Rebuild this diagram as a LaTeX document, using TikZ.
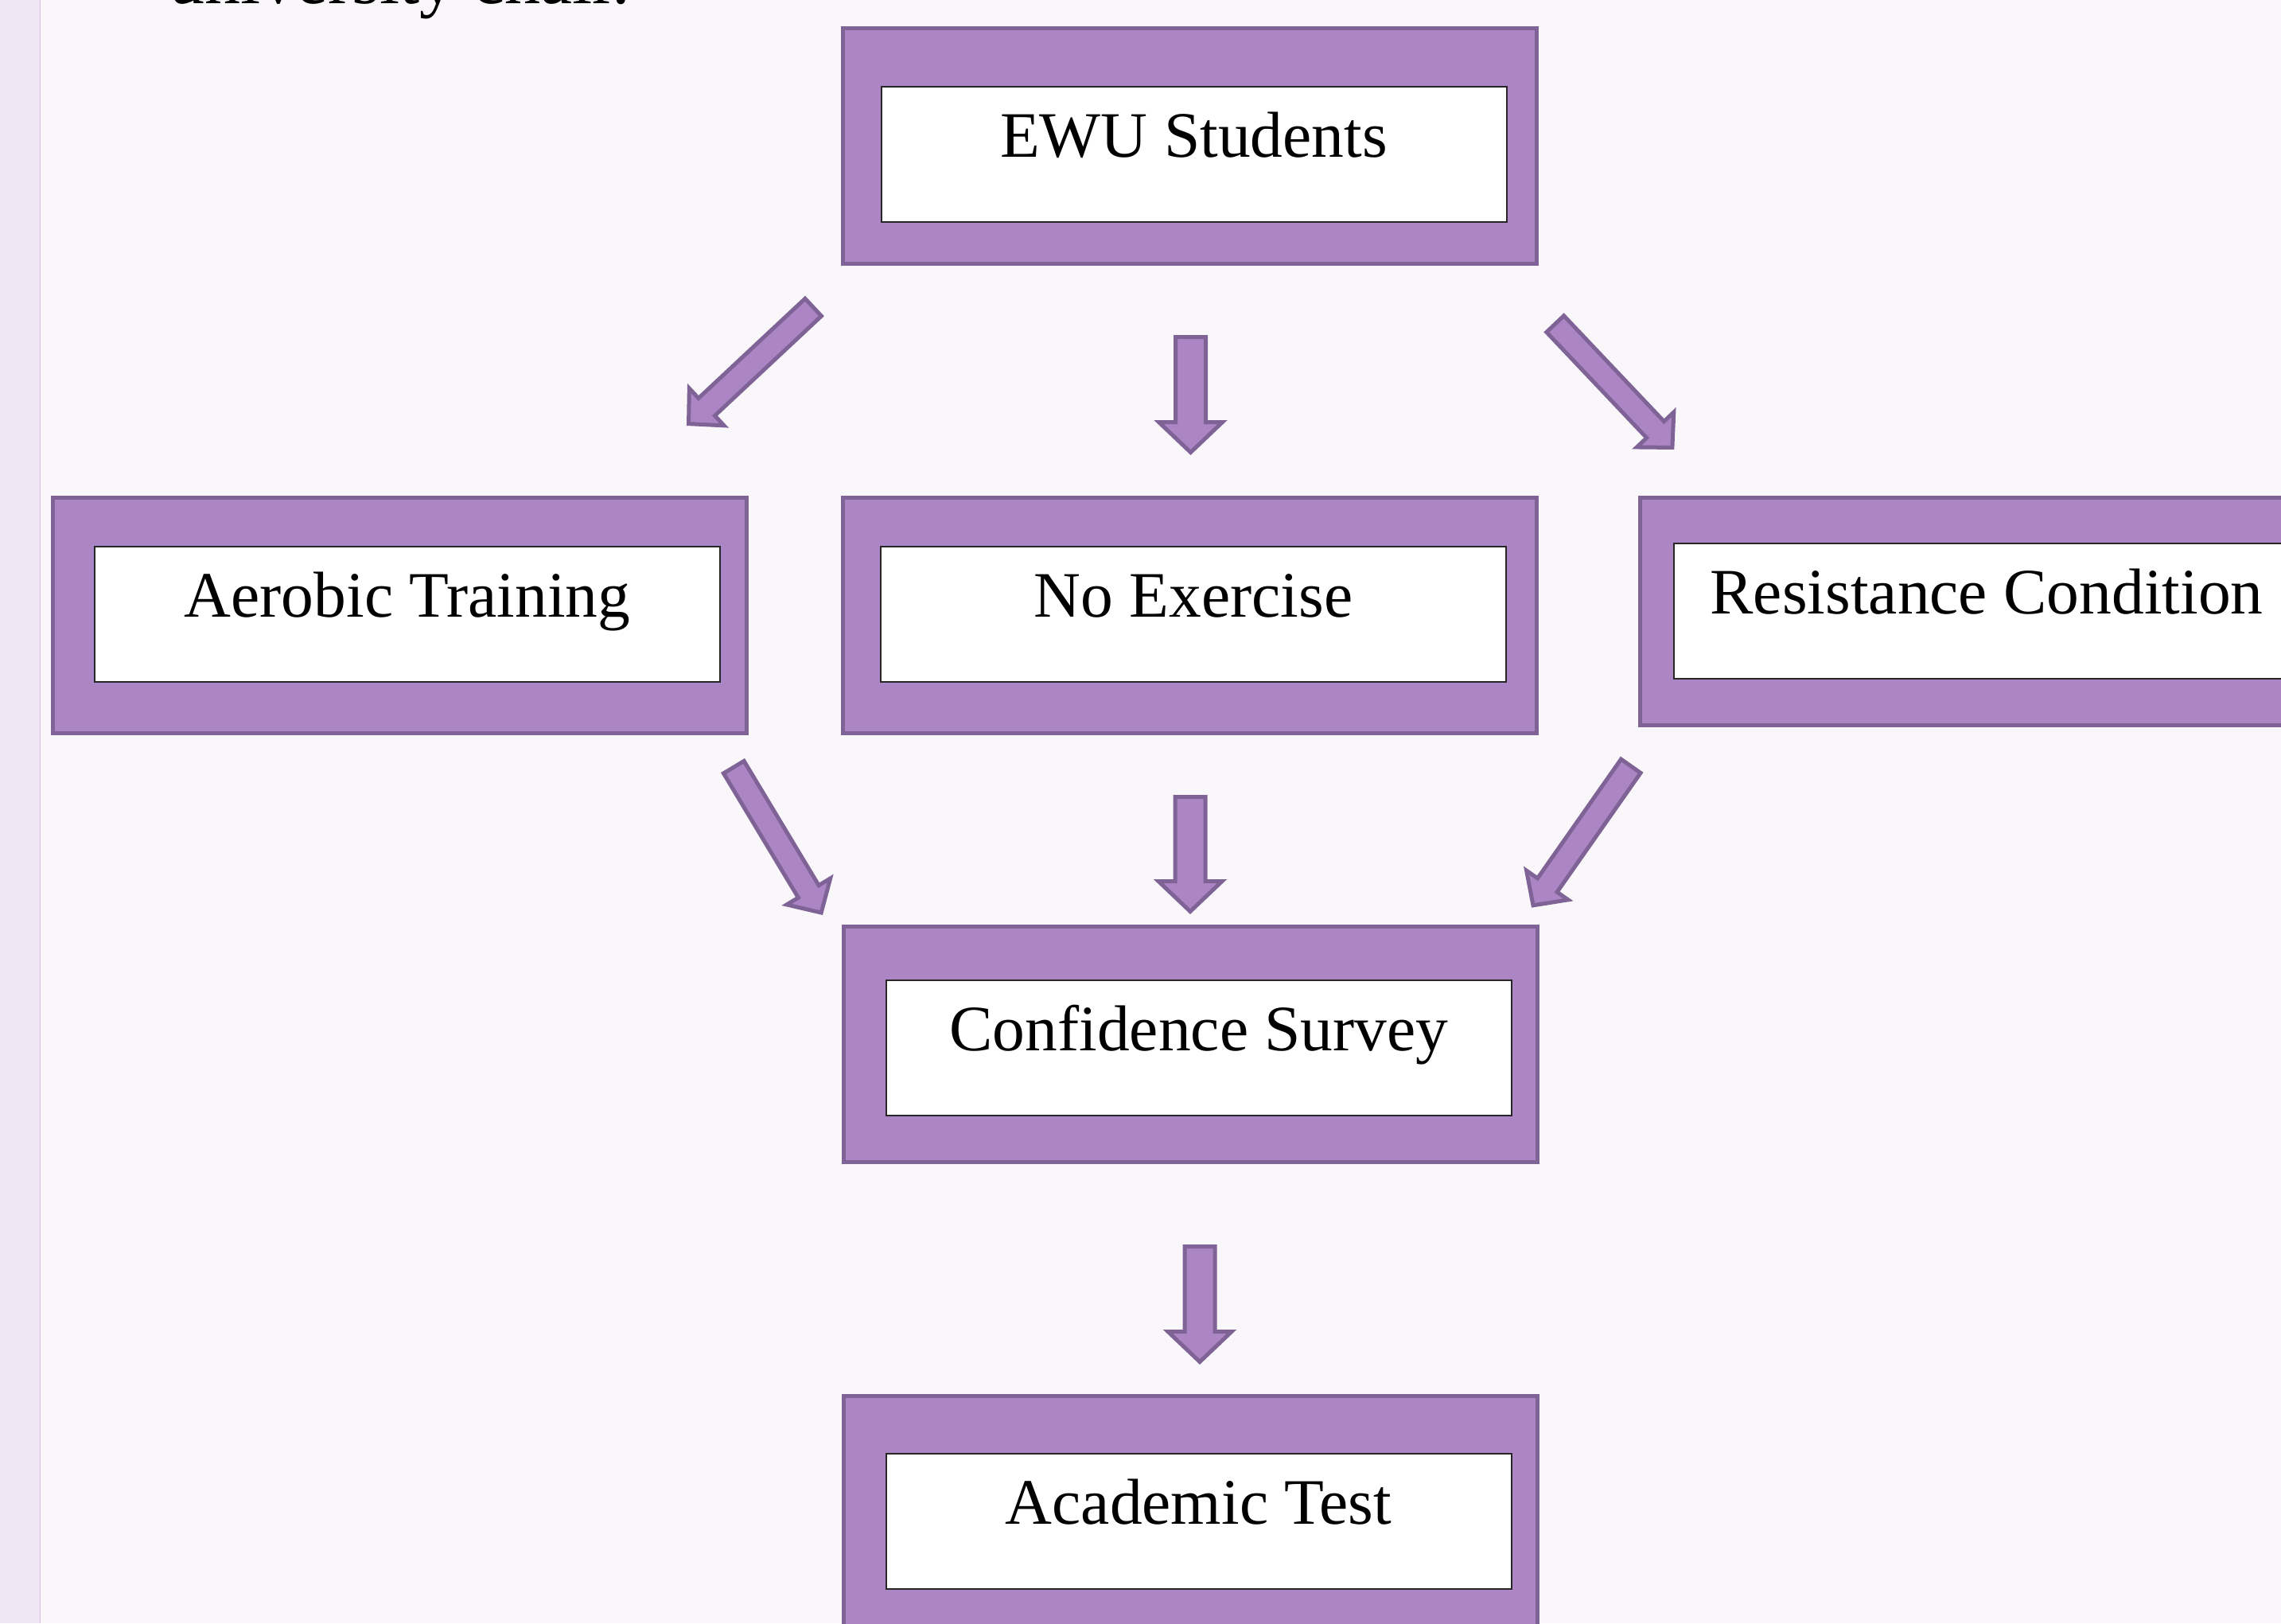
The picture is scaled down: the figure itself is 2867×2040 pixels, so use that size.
\documentclass[tikz,border=0pt]{standalone}
\usepackage{fontspec}
\setmainfont{Liberation Serif}
\usetikzlibrary{calc}

\definecolor{pagebg}{HTML}{F9F7FA}
\definecolor{margintint}{HTML}{EFE6F3}
\definecolor{marginrule}{HTML}{D9BCE3}
\definecolor{lilac}{HTML}{AC85C5}
\definecolor{lilacedge}{HTML}{7F6396}

\tikzset{
  outerframe/.style={draw=lilacedge, fill=lilac, line width=5pt, inner sep=0pt,
    minimum width=872pt, minimum height=296pt},
  labelbox/.style={draw=black!85, fill=white, line width=2pt, inner xsep=0pt, inner ysep=0pt,
    minimum width=786pt, text height=88.5pt, text depth=81.5pt,
    font=\fontsize{81.5}{90}\selectfont},
  arrowbody/.style={draw=lilacedge, fill=lilac, line width=5pt, line join=miter},
}

% block arrow: #1 tail, #2 tip, #3 half shaft width, #4 half head width, #5 head length
\newcommand{\blockarrow}[5]{%
  \coordinate (ba-a) at ($(#1)!2.5pt!(#2)$);
  \coordinate (ba-b) at ($(#2)!3.5pt!(#1)$);
  \coordinate (ba-s) at ($(ba-b)!#5!(ba-a)$);
  \draw[arrowbody] ($(ba-a)!#3!90:(ba-b)$) -- ($(ba-s)!#3!-90:(ba-a)$)
    -- ($(ba-s)!#4!-90:(ba-a)$) -- (ba-b) -- ($(ba-s)!#4!90:(ba-a)$)
    -- ($(ba-s)!#3!90:(ba-a)$) -- ($(ba-a)!#3!-90:(ba-b)$) -- cycle;
}

\begin{document}
\begin{tikzpicture}[x=1pt, y=-1pt]
  \useasboundingbox (0,0) rectangle (2867,2040);
  \clip (0,0) rectangle (2867,2040);

  % page and margin band
  \fill[pagebg] (0,0) rectangle (2867,2040);
  \fill[margintint] (0,0) rectangle (50,2040);
  \draw[marginrule, line width=1.5pt] (50.5,0) -- (50.5,2040);

  % end of the preceding paragraph
  \node[anchor=base west, inner sep=0pt, font=\fontsize{90}{100}\selectfont] (intro)
    at (212,4) {university chair.};

  % frames
  \node[outerframe] (ewuframe) at (1495.5,183.5) {};
  \node[outerframe] (aeroframe) at (502.75,773.5) {};
  \node[outerframe] (noexframe) at (1495.5,773.5) {};
  \node[outerframe, minimum height=286pt] (resframe) at (2497.5,768.5) {};
  \node[outerframe] (confframe) at (1496,1312.5) {};
  \node[outerframe] (acadframe) at (1496,1902.5) {};

  % labels
  \node[labelbox] (ewu) at (1500.5,193.5) {EWU Students};
  \node[labelbox] (aero) at (512,772) {Aerobic Training};
  \node[labelbox] (noex) at (1500,772) {No Exercise};
  \node[labelbox] (res) at (2497,767.5) {Resistance Condition};
  \node[labelbox] (conf) at (1507,1316.5) {Confidence Survey};
  \node[labelbox] (acad) at (1506.5,1912) {Academic Test};

  % arrow ends
  \coordinate (a1t) at (1024,384.5);   \coordinate (a1h) at (863,535);
  \coordinate (a2t) at (1496.5,421);   \coordinate (a2h) at (1496.5,572);
  \coordinate (a3t) at (1953,405.3);   \coordinate (a3h) at (2104.3,565);
  \coordinate (a4t) at (921,962);      \coordinate (a4h) at (1034,1150);
  \coordinate (a5t) at (1496,999);     \coordinate (a5h) at (1496,1149);
  \coordinate (a6t) at (2051.2,960.7); \coordinate (a6h) at (1925,1140.7);
  \coordinate (a7t) at (1508,1564);    \coordinate (a7h) at (1508,1715);

  % slanted arrows
  \blockarrow{a1t}{a1h}{15pt}{32pt}{31pt}
  \blockarrow{a3t}{a3h}{15pt}{32pt}{31pt}
  \blockarrow{a4t}{a4h}{15pt}{32pt}{31pt}
  \blockarrow{a6t}{a6h}{15pt}{32pt}{31pt}
  % straight arrows
  \blockarrow{a2t}{a2h}{19pt}{40pt}{38pt}
  \blockarrow{a5t}{a5h}{19pt}{40pt}{38pt}
  \blockarrow{a7t}{a7h}{19pt}{40pt}{38pt}
\end{tikzpicture}
\end{document}
